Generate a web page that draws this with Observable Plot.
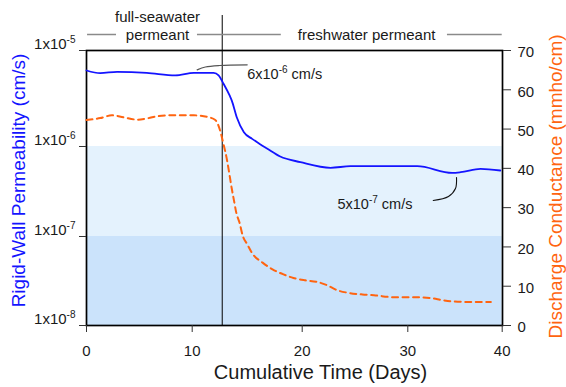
<!DOCTYPE html>
<html><head><meta charset="utf-8">
<script src="https://cdn.jsdelivr.net/npm/d3@7"></script>
<script src="https://cdn.jsdelivr.net/npm/@observablehq/plot@0.6"></script>
<style>body{margin:0;background:#fff}#chart{width:566px;height:387px}</style>
</head><body><div id="chart"></div>
<script>
// ---- data ----
const blueDays = [0,1.3,2.9,5.7,8.4,10.15,11.95,12.4,12.85,13.4,13.6,14.05,14.7,15.45,16.1,16.8,18.0,19.84,22.68,24.57,31.0,34.7,35.6,37.7,39.8];
const permeability = [6.19e-6,5.81e-6,6.0e-6,5.86e-6,5.5e-6,5.86e-6,5.86e-6,5.5e-6,4.5e-6,3.4e-6,3.01e-6,2.02e-6,1.41e-6,1.2e-6,1.07e-6,9.5e-7,7.74e-7,6.7e-7,5.8e-7,6.04e-7,6.04e-7,5.1e-7,5.18e-7,5.65e-7,5.41e-7];
const condDays = [0,1.3,2.4,3.5,4.8,5.7,6.8,7.9,10.15,11.36,12.1,12.57,12.8,13.2,13.4,13.6,13.8,14.0,14.3,14.6,15.0,15.45,16.4,17.3,18.3,19.2,20.3,21.4,22.4,23.3,24.4,25.7,26.8,28.7,31.0,32.4,33.8,34.9,36.3,38.8];
const conductance = [52.3,52.8,53.5,53.0,52.4,52.7,53.3,53.5,53.5,53.1,52.3,49.3,46.7,41.6,38.2,34.8,31.8,28.8,26.2,22.8,20.7,18.4,16.0,14.3,13.0,12.1,11.5,11.1,10.2,9.0,8.3,7.9,7.7,7.2,7.2,7.0,6.4,6.1,6.0,6.0];

const xTicks = [0,10,20,30,40];
const permTicks = [1e-8,1e-7,1e-6,1e-5];
const condTicks = [0,10,20,30,40,50,60,70];
const condDomain = [0,70];

const bandLow = [1e-8, 1e-7];
const bandHigh = [1e-7, 1e-6];

const switchDay = 12.73;
const headerLabels = ["full-seawater\npermeant", "freshwater permeant"];
const headerLabelDays = [6.72, 26.1];
const headerSegStart = [0.1, 10.48, 34.2];
const headerSegEnd = [2.84, 18.1, 40];

const annText = ["6x10^-6 cm/s", "5x10^-7 cm/s"];
const annDays = [15.0, 23.34];
const annPerm = [5.71e-6, 2.25e-7];
const leader1Days = [10.45, 11.2, 12.5, 15.0];
const leader1Perm = [6.29e-6, 6.73e-6, 6.98e-6, 7.1e-6];
const leader2Days = [32.69, 34.31, 35.05, 35.16];
const leader2Perm = [2.51e-7, 2.78e-7, 3.41e-7, 4.53e-7];

// ---- scales (piecewise to follow the original's axis spacing) ----
const xDomain = [0,10,20,30,40];
const xRange = [86,191.7,301.7,407.3,501.7];
const yDomain = [1e-8,1e-7,1e-6,1e-5];
const yRange = [325,236,146,50];
const yD3 = d3.scaleLog().domain(yDomain).range(yRange);
const condPx = d3.scaleLinear().domain(condDomain).range([325,50]);
const toY = c => yD3.invert(condPx(c));

const blueData = blueDays.map((d,i)=>({day:d, k:permeability[i]}));
const condData = condDays.map((d,i)=>({day:d, c:conductance[i]}));
const bands = bandLow.map((lo,i)=>({lo, hi:bandHigh[i]}));
const segs = headerSegStart.map((a,i)=>({a, b:headerSegEnd[i]}));
const headers = headerLabels.map((t,i)=>({t, x:headerLabelDays[i]}));
const anns = annText.map((t,i)=>({t, x:annDays[i], y:annPerm[i]}));
const lead1 = leader1Days.map((d,i)=>({x:d, y:leader1Perm[i]}));
const lead2 = leader2Days.map((d,i)=>({x:d, y:leader2Perm[i]}));
const condTickData = condTicks.map(c => ({c, y: toY(c)}));

const BLUE = "#1414ff", ORANGE = "#ff6410", FONT = "'Liberation Sans', Arial, sans-serif";

const chart = Plot.plot({
  width: 566, height: 387,
  marginLeft: 86, marginRight: 64, marginTop: 50, marginBottom: 62,
  x: {type: "linear", domain: xDomain, range: xRange},
  y: {type: "log", domain: yDomain, range: yRange},
  style: {fontFamily: FONT, background: "#fff", color: "#1a1a1a"},
  marks: [
    Plot.rect([bands[0]], {x1: () => 0, x2: () => 40, y1: "lo", y2: "hi", fill: "#cbe3fb"}),
    Plot.rect([bands[1]], {x1: () => 0, x2: () => 40, y1: "lo", y2: "hi", fill: "#e4f2fd"}),
    Plot.frame({stroke: "#000", strokeWidth: 1.7}),
    Plot.ruleX([switchDay], {stroke: "#000", strokeWidth: 1, insetTop: -35}),
    Plot.ruleY(segs, {x1: "a", x2: "b", y: () => 1e-5, dy: -16, stroke: "#8a8a8a", strokeWidth: 1.5}),
    Plot.text(headers, {x: "x", text: "t", frameAnchor: "top", lineAnchor: "bottom", dy: -11, lineHeight: 1.2, fontSize: 15, fill: "#1a1a1a"}),
    Plot.line(condData, {x: "day", y: d => toY(d.c), stroke: ORANGE, strokeWidth: 2, strokeDasharray: "6,4.5", curve: "monotone-x"}),
    Plot.line(blueData, {x: "day", y: "k", stroke: BLUE, strokeWidth: 1.8, curve: "monotone-x"}),
    Plot.line(lead1, {x: "x", y: "y", stroke: "#555", strokeWidth: 1.2, curve: "catmull-rom"}),
    Plot.line(lead2, {x: "x", y: "y", stroke: "#111", strokeWidth: 1.1, curve: "catmull-rom"}),
    Plot.text(anns, {x: "x", y: "y", text: "t", textAnchor: "start", fontSize: 14.5, fill: "#1a1a1a"}),
    // left axis
    Plot.axisY(permTicks, {anchor: "left", tickSize: 7, fill: "none", stroke: "#333", label: null}),
    Plot.axisY(permTicks, {anchor: "left", tickSize: 0, tickPadding: 11, dy: -6, fontSize: 15, fill: "#1a1a1a", label: null,
      tickFormat: d => "1x10^" + Math.round(Math.log10(d)), ariaLabel: "yticks-left"}),
    // right axis
    Plot.axisY(condTickData.map(d => d.y), {anchor: "right", tickSize: 8, fill: "none", stroke: "#333", label: null}),
    Plot.text(condTickData, {y: "y", text: d => String(d.c), frameAnchor: "right", textAnchor: "start", dx: 15, dy: 2, fontSize: 15, fill: "#1a1a1a"}),
    // bottom axis
    Plot.axisX(xTicks, {anchor: "bottom", tickSize: 7, tickPadding: 13, fontSize: 15, stroke: "#333", fill: "#1a1a1a", label: null, tickFormat: d => String(d)}),
    // axis titles
    Plot.text(["Rigid-Wall Permeability (cm/s)"], {frameAnchor: "left", rotate: -90, dx: -68, dy: -7.5, textAnchor: "middle", lineAnchor: "middle", fontSize: 19, fill: BLUE, ariaLabel: "ytitle-left"}),
    Plot.text(["Discharge Conductance (mmho/cm)"], {frameAnchor: "right", rotate: -90, dx: 53, dy: -1.5, textAnchor: "middle", lineAnchor: "middle", fontSize: 19, fill: ORANGE, ariaLabel: "ytitle-right"}),
    Plot.text(["Cumulative Time (Days)"], {frameAnchor: "bottom", dx: 26, dy: 47, textAnchor: "middle", lineAnchor: "middle", fontSize: 20, fill: "#1a1a1a", ariaLabel: "xtitle"})
  ]
});

// superscripts: "a^-5 rest" -> a<tspan sup>-5</tspan><tspan> rest</tspan>
function supify(root) {
  const ns = "http://www.w3.org/2000/svg";
  root.querySelectorAll("text, tspan").forEach(el => {
    if (el.children.length) return;
    const m = (el.textContent || "").match(/^(.*?)\^(-?\d+)(.*)$/);
    if (!m) return;
    el.textContent = "";
    el.appendChild(document.createTextNode(m[1]));
    const sup = document.createElementNS(ns, "tspan");
    sup.setAttribute("dy", "-6");
    sup.setAttribute("font-size", "10");
    sup.textContent = m[2];
    el.appendChild(sup);
    if (m[3]) {
      const rest = document.createElementNS(ns, "tspan");
      rest.setAttribute("dy", "6");
      rest.textContent = m[3];
      el.appendChild(rest);
    }
  });
}
supify(chart);
d3.select(chart).selectAll('g[aria-label="ytitle-left"] text').attr("letter-spacing", "1.4");
d3.select(chart).selectAll('g[aria-label="xtitle"] text').attr("letter-spacing", "0.2");
d3.select(chart).selectAll('g[aria-label="yticks-left"] text').attr("letter-spacing", "0.4");
document.getElementById("chart").appendChild(chart);
</script></body></html>
